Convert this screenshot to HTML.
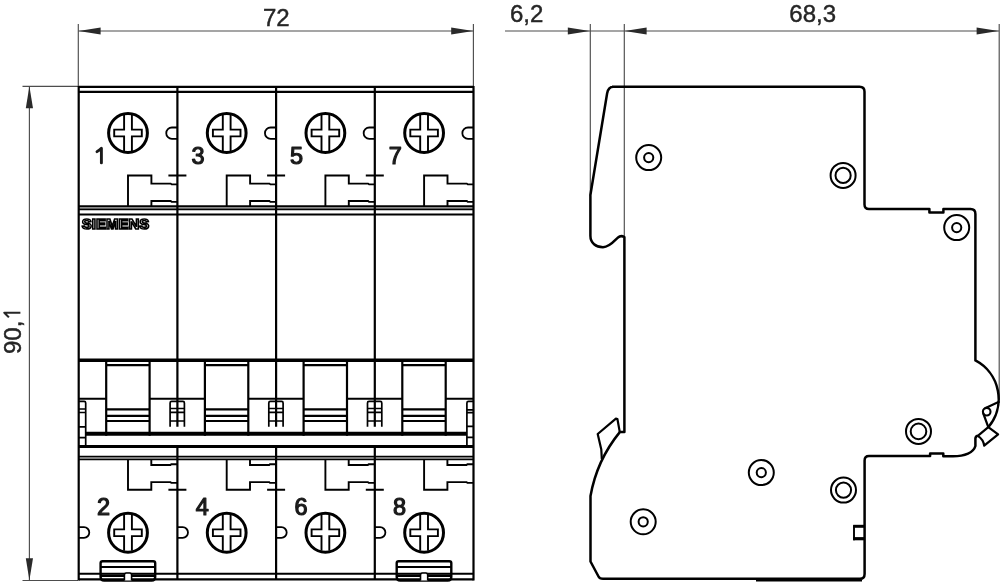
<!DOCTYPE html>
<html><head><meta charset="utf-8"><style>
html,body{margin:0;padding:0;background:#fff;}
svg{display:block;will-change:transform;}
</style></head><body>
<svg width="1000" height="584" viewBox="0 0 1000 584">
<rect width="1000" height="584" fill="#fff"/>
<g stroke="#4d4d4d" stroke-width="1.15" fill="none"><line x1="78.3" y1="24" x2="78.3" y2="86"/><line x1="473.4" y1="24" x2="473.4" y2="86"/><line x1="78.3" y1="31" x2="473.4" y2="31"/><line x1="22.5" y1="86.3" x2="78" y2="86.3"/><line x1="22.5" y1="580.5" x2="78" y2="580.5"/><line x1="29.4" y1="86.3" x2="29.4" y2="580.5"/><line x1="505" y1="31" x2="999" y2="31"/><line x1="590.3" y1="24" x2="590.3" y2="196"/><line x1="624.3" y1="24" x2="624.3" y2="236"/><line x1="999.2" y1="24" x2="999.2" y2="400"/></g>
<g fill="#2a2a2a"><path d="M78.6,31 L100.60,27.40 L100.60,34.60Z"/><path d="M473.2,31 L451.20,34.60 L451.20,27.40Z"/><path d="M29.4,86.3 L33.00,108.30 L25.80,108.30Z"/><path d="M29.4,580.3 L25.80,558.30 L33.00,558.30Z"/><path d="M589.8,31 L567.80,34.60 L567.80,27.40Z"/><path d="M624.6,31 L646.60,27.40 L646.60,34.60Z"/><path d="M998.6,31 L976.60,34.60 L976.60,27.40Z"/></g>
<g font-family="Liberation Sans, sans-serif" font-size="24" fill="#262626" stroke="#262626" stroke-width="0.45">
<text x="263" y="25.5">72</text>
<text x="510" y="21.9">6,2</text>
<text x="789.3" y="21.9">68,3</text>
<text transform="translate(20.9,354) rotate(-90)">90,</text>
<path d="M8.9,317.4 Q6,314.2 4.3,312.7 H20.4" fill="none" stroke-width="2.1" stroke-linejoin="round"/>
</g>
<g stroke="#000" stroke-width="2.2" fill="none" stroke-linecap="butt"><path d="M78.7,207.8 H473.5" stroke-width="1.6" stroke="#8a8a8a"/><path d="M78.7,86 V580.5 M473.5,86 V580.5"/><path d="M78.7,86.8 H473.5 M78.7,91.8 H473.5"/><path d="M177.4,86 V426.7 M177.4,446 V580"/><path d="M276.1,86 V426.7 M276.1,446 V580"/><path d="M374.8,86 V426.7 M374.8,446 V580"/><path d="M78.7,206.2 H473.5" stroke-width="1.8"/><path d="M78.7,209.4 H473.5" stroke-width="1.7"/><path d="M78.7,214.5 H473.5" stroke-width="2"/><path d="M78.7,360.2 H473.5" stroke-width="3.4"/><path d="M85.7,433.7 H466.9" stroke-width="4"/><path d="M78.7,446.5 H473.5" stroke-width="2.8"/><path d="M78.7,456.6 H473.5 M78.7,459.4 H473.5" stroke-width="1.6"/><path d="M78.7,573.8 H473.5" stroke-width="2"/><path d="M78.7,579.3 H473.5" stroke-width="2.2"/><path stroke-width="1.9" d="M124.10,115.00 V129.60 H114.20 V136.40 H124.10 V151.00 M131.90,115.00 V129.60 H141.80 V136.40 H131.90 V151.00"/><circle cx="128.00" cy="133.00" r="19.4" stroke-width="3"/><path stroke-width="1.8" d="M177.40,127.5 H171.90 A5.65,5.65 0 0 0 171.90,138.8 H177.40"/><path stroke-width="1.9" d="M128.00,206 V175.5 H151.40 V183.6 H170.70 L171.70,184.4 H177.40 M151.40,206 V201 H170.70 L171.70,201.9 H177.40"/><path d="M106.20,360 V435.8 M149.60,360 V435.8"/><path stroke-width="2.2" d="M106.20,365.2 H149.60 M106.20,409.3 H149.60 M106.20,415.9 H149.60 M106.20,421 H149.60"/><path stroke-width="2" d="M78.70,398.7 H106.20 M149.60,398.7 H177.40"/><path stroke-width="1.9" d="M124.10,514.75 V529.35 H114.20 V536.15 H124.10 V550.75 M131.90,514.75 V529.35 H141.80 V536.15 H131.90 V550.75"/><circle cx="128.00" cy="532.75" r="19.4" stroke-width="3"/><path stroke-width="1.8" d="M78.70,527.2 H84.00 A5.3,5.3 0 0 1 84.00,537.8 H78.70"/><path stroke-width="1.9" d="M128.00,459.5 V489.8 H151.30 V482.1 H170.50 L171.30,482.9 H177.40 M151.30,459.5 V465 H170.50 L171.30,464.2 H177.40"/><path stroke-width="1.9" d="M222.80,115.00 V129.60 H212.90 V136.40 H222.80 V151.00 M230.60,115.00 V129.60 H240.50 V136.40 H230.60 V151.00"/><circle cx="226.70" cy="133.00" r="19.4" stroke-width="3"/><path stroke-width="1.8" d="M276.10,127.5 H270.60 A5.65,5.65 0 0 0 270.60,138.8 H276.10"/><path stroke-width="1.9" d="M226.70,206 V175.5 H250.10 V183.6 H269.40 L270.40,184.4 H276.10 M250.10,206 V201 H269.40 L270.40,201.9 H276.10"/><path d="M204.90,360 V435.8 M248.30,360 V435.8"/><path stroke-width="2.2" d="M204.90,365.2 H248.30 M204.90,409.3 H248.30 M204.90,415.9 H248.30 M204.90,421 H248.30"/><path stroke-width="2" d="M177.40,398.7 H204.90 M248.30,398.7 H276.10"/><path stroke-width="1.9" d="M222.80,514.75 V529.35 H212.90 V536.15 H222.80 V550.75 M230.60,514.75 V529.35 H240.50 V536.15 H230.60 V550.75"/><circle cx="226.70" cy="532.75" r="19.4" stroke-width="3"/><path stroke-width="1.8" d="M177.40,527.2 H182.70 A5.3,5.3 0 0 1 182.70,537.8 H177.40"/><path stroke-width="1.9" d="M226.70,459.5 V489.8 H250.00 V482.1 H269.20 L270.00,482.9 H276.10 M250.00,459.5 V465 H269.20 L270.00,464.2 H276.10"/><path stroke-width="1.9" d="M321.50,115.00 V129.60 H311.60 V136.40 H321.50 V151.00 M329.30,115.00 V129.60 H339.20 V136.40 H329.30 V151.00"/><circle cx="325.40" cy="133.00" r="19.4" stroke-width="3"/><path stroke-width="1.8" d="M374.80,127.5 H369.30 A5.65,5.65 0 0 0 369.30,138.8 H374.80"/><path stroke-width="1.9" d="M325.40,206 V175.5 H348.80 V183.6 H368.10 L369.10,184.4 H374.80 M348.80,206 V201 H368.10 L369.10,201.9 H374.80"/><path d="M303.60,360 V435.8 M347.00,360 V435.8"/><path stroke-width="2.2" d="M303.60,365.2 H347.00 M303.60,409.3 H347.00 M303.60,415.9 H347.00 M303.60,421 H347.00"/><path stroke-width="2" d="M276.10,398.7 H303.60 M347.00,398.7 H374.80"/><path stroke-width="1.9" d="M321.50,514.75 V529.35 H311.60 V536.15 H321.50 V550.75 M329.30,514.75 V529.35 H339.20 V536.15 H329.30 V550.75"/><circle cx="325.40" cy="532.75" r="19.4" stroke-width="3"/><path stroke-width="1.8" d="M276.10,527.2 H281.40 A5.3,5.3 0 0 1 281.40,537.8 H276.10"/><path stroke-width="1.9" d="M325.40,459.5 V489.8 H348.70 V482.1 H367.90 L368.70,482.9 H374.80 M348.70,459.5 V465 H367.90 L368.70,464.2 H374.80"/><path stroke-width="1.9" d="M420.20,115.00 V129.60 H410.30 V136.40 H420.20 V151.00 M428.00,115.00 V129.60 H437.90 V136.40 H428.00 V151.00"/><circle cx="424.10" cy="133.00" r="19.4" stroke-width="3"/><path stroke-width="1.8" d="M473.50,127.5 H468.00 A5.65,5.65 0 0 0 468.00,138.8 H473.50"/><path stroke-width="1.9" d="M424.10,206 V175.5 H447.50 V183.6 H466.80 L467.80,184.4 H473.50 M447.50,206 V201 H466.80 L467.80,201.9 H473.50"/><path d="M402.30,360 V435.8 M445.70,360 V435.8"/><path stroke-width="2.2" d="M402.30,365.2 H445.70 M402.30,409.3 H445.70 M402.30,415.9 H445.70 M402.30,421 H445.70"/><path stroke-width="2" d="M374.80,398.7 H402.30 M445.70,398.7 H473.50"/><path stroke-width="1.9" d="M420.20,514.75 V529.35 H410.30 V536.15 H420.20 V550.75 M428.00,514.75 V529.35 H437.90 V536.15 H428.00 V550.75"/><circle cx="424.10" cy="532.75" r="19.4" stroke-width="3"/><path stroke-width="1.8" d="M374.80,527.2 H380.10 A5.3,5.3 0 0 1 380.10,537.8 H374.80"/><path stroke-width="1.9" d="M424.10,459.5 V489.8 H447.40 V482.1 H466.60 L467.40,482.9 H473.50 M447.40,459.5 V465 H466.60 L467.40,464.2 H473.50"/><path stroke-width="1.9" d="M168.40,175.5 H186.40 M168.40,489.8 H186.40"/><path stroke-width="1.9" d="M267.10,175.5 H285.10 M267.10,489.8 H285.10"/><path stroke-width="1.9" d="M365.80,175.5 H383.80 M365.80,489.8 H383.80"/><path stroke-width="1.7" d="M170.10,426.7 V403 Q170.10,401.4 171.60,401.4 H182.90 Q184.40,401.4 184.40,403 V426.7 M170.10,408.5 H184.40 M170.10,412.4 H184.40 M170.10,421 H184.40"/><path stroke-width="1.7" d="M268.80,426.7 V403 Q268.80,401.4 270.30,401.4 H281.60 Q283.10,401.4 283.10,403 V426.7 M268.80,408.5 H283.10 M268.80,412.4 H283.10 M268.80,421 H283.10"/><path stroke-width="1.7" d="M367.50,426.7 V403 Q367.50,401.4 369.00,401.4 H380.30 Q381.80,401.4 381.80,403 V426.7 M367.50,408.5 H381.80 M367.50,412.4 H381.80 M367.50,421 H381.80"/><path stroke-width="1.7" d="M85.70,446 V403 Q85.70,401.4 84.20,401.4 H78.7 M78.7,409 H85.7 M78.7,412.5 H85.7 M78.7,426.8 H85.7 M78.7,437.6 H85.7"/><path stroke-width="1.7" d="M466.90,446 V403 Q466.90,401.4 468.50,401.4 H473.5 M473.5,409.9 H466.9 M473.5,412.7 H466.9 M473.5,426.4 H466.9 M473.5,437.4 H466.9"/><path stroke-width="2.4" d="M100.60,577 V563 Q100.60,561.3 102.60,561.3 H153.20 Q155.20,561.3 155.20,563 V577 Q155.20,580.5 151.70,580.5 H104.10 Q100.60,580.5 100.60,577"/><path stroke-width="2" d="M100.60,567 H155.20"/><path stroke-width="2.6" d="M100.60,575.8 H155.20"/><path stroke-width="1.6" fill="#fff" d="M124.40,580.5 V575 Q124.40,573 126.40,573 H129.60 Q131.60,573 131.60,575 V580.5"/><path stroke-width="2.4" d="M396.70,577 V563 Q396.70,561.3 398.70,561.3 H449.30 Q451.30,561.3 451.30,563 V577 Q451.30,580.5 447.80,580.5 H400.20 Q396.70,580.5 396.70,577"/><path stroke-width="2" d="M396.70,567 H451.30"/><path stroke-width="2.6" d="M396.70,575.8 H451.30"/><path stroke-width="1.6" fill="#fff" d="M420.50,580.5 V575 Q420.50,573 422.50,573 H425.70 Q427.70,573 427.70,575 V580.5"/></g>
<g font-family="Liberation Sans, sans-serif" font-weight="normal" font-size="23.5" fill="#1a1a1a" stroke="#1a1a1a" stroke-width="1.2" stroke-linejoin="round">
<path d="M97,151.6 Q100,149.6 101.4,148.2 V162.9" fill="none" stroke-width="2.9" stroke-linecap="round" stroke-linejoin="round"/>
<text x="97.0" y="514.5">2</text>
<text x="191.4" y="164">3</text>
<text x="195.7" y="514.5">4</text>
<text x="290.1" y="164">5</text>
<text x="294.4" y="514.5">6</text>
<text x="388.8" y="164">7</text>
<text x="393.1" y="514.5">8</text>
</g>
<text x="81.8" y="229.3" font-family="Liberation Sans, sans-serif" font-weight="bold" font-size="15" fill="#fff" stroke="#000" stroke-width="1.6" textLength="67.5" lengthAdjust="spacingAndGlyphs">SIEMENS</text>
<g stroke="#000" fill="none" stroke-linejoin="round"><path stroke-width="2.5" d="M612,86.75 H859.5 Q864.5,86.75 864.5,91.75 V204.5 Q864.5,209 869,209 H929.4 V212.5 H943.4 V209 H970.5 Q975.4,209 975.4,214 V360.4 A43.6,43.6 0 0 1 988.3,427.2 M977.8,435.6 Q975.4,436.3 975.4,438.5 V446 C973.6,452.5 965,456.2 953,456.2 H943.3 V453.4 H930.1 V456.1 H869 Q864.6,456.1 864.6,460.5 V574 Q864.6,578.8 860,578.8 H603 Q599.5,578.8 598.5,576.5 L590.5,561.5 V496 A139.3,139.3 0 0 1 619.8,432.1 H624.4 V237 C622,235.7 620,235.7 618,237.5 C615,240 610,247.2 603,247.2 C596,247.2 590.4,243 590.4,235.7 V195 L607.1,93.5 Q608.2,86.75 613.5,86.75"/><path stroke-width="2" d="M756,580.6 H862"/><path stroke-width="1.9" d="M854,525.2 V540.2"/><path stroke-width="3" d="M853.2,526.3 H864.5"/><path stroke-width="3.2" d="M853.2,538.7 H864.5"/><path stroke-width="2.2" d="M619.8,432.1 L617.4,419 L615.9,418.6 L597.7,434 L601.3,449.5 L601.8,459"/><path stroke-width="2.2" d="M988.3,427.2 L998.1,434.4 L984.2,445.7 Q983.5,439.5 977.8,435.8 L988.3,427.2"/><path stroke-width="2.2" d="M999.6,401.5 L985.1,408.26 M983.13,413 L988.3,427.2"/><circle cx="986.7" cy="411.7" r="3.8" stroke-width="2.1"/><circle cx="648.7" cy="157.6" r="12.5" stroke-width="2"/><circle cx="648.7" cy="157.6" r="4.6" stroke-width="2"/><circle cx="843.1" cy="175.4" r="12.5" stroke-width="2"/><circle cx="843.1" cy="175.4" r="7.6" stroke-width="2"/><circle cx="956.7" cy="227.6" r="12.5" stroke-width="2"/><circle cx="956.7" cy="227.6" r="4.6" stroke-width="2"/><circle cx="918.5" cy="431.4" r="12.5" stroke-width="2"/><circle cx="918.5" cy="431.4" r="7.8" stroke-width="2"/><circle cx="761.3" cy="472.6" r="12.5" stroke-width="2"/><circle cx="761.3" cy="472.6" r="4.6" stroke-width="2"/><circle cx="843.5" cy="490.1" r="12.5" stroke-width="2"/><circle cx="843.5" cy="490.1" r="7.6" stroke-width="2"/><circle cx="643.2" cy="521.8" r="12.5" stroke-width="2"/><circle cx="643.2" cy="521.8" r="4.6" stroke-width="2"/></g>
</svg>
</body></html>
